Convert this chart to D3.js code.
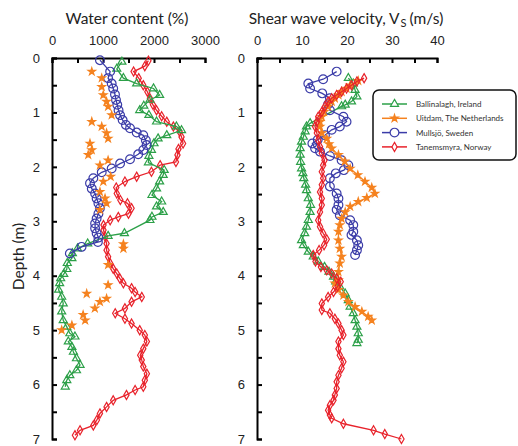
<!DOCTYPE html>
<html>
<head>
<meta charset="utf-8">
<script src="https://cdn.jsdelivr.net/npm/d3@7/dist/d3.min.js"></script>
<style>
  html, body { margin: 0; padding: 0; background: #fff; }
  svg { display: block; font-family: Lato, "Open Sans", sans-serif; }
  .axis path, .axis line { stroke: #000; stroke-width: 2; }
  .axis text { font-size: 13px; fill: #222; }
</style>
</head>
<body>
<svg id="chart" width="518" height="446"></svg>
<script>
// ---- data: [depth (m), value] ----
const siteNames = ["Ballinalagh, Ireland", "Uitdam, The Netherlands", "Mullsjö, Sweden", "Tanemsmyra, Norway"];
const siteColors = ["#2ca048", "#f5821f", "#3b3ca8", "#e8222b"];

const wcTicks = [0, 500, 1000, 1500, 2000, 2500, 3000];
const vsTicks = [0, 5, 10, 15, 20, 25, 30, 35, 40];
const depthTicks = [0, 0.5, 1, 1.5, 2, 2.5, 3, 3.5, 4, 4.5, 5, 5.5, 6, 6.5, 7];

// Water content (%)
const ballinalaghWC = [
  [0.07,1370],[0.20,1270],[0.37,1400],[0.47,1660],[0.56,1990],[0.68,2110],[0.77,1920],[0.88,1800],
  [0.96,1720],[1.05,1900],[1.17,2050],[1.26,2440],[1.33,2540],[1.42,2250],[1.48,2080],[1.57,2000],
  [1.69,1950],[1.80,1900],[1.92,1890],[2.06,2200],[2.15,2180],[2.27,2110],[2.40,2050],[2.52,1960],
  [2.64,2150],[2.73,2050],[2.83,2180],[2.92,1960],[2.98,1920],[3.22,1420],[3.27,1100],[3.41,700],
  [3.50,500],[3.59,400],[3.68,390],[3.77,300],[3.88,290],[3.97,230],[4.05,170],[4.14,150],
  [4.26,130],[4.39,190],[4.51,220],[4.66,190],[4.82,220],[4.94,290],[5.06,350],[5.12,450],
  [5.21,320],[5.31,390],[5.40,420],[5.52,480],[5.64,550],[5.74,480],[5.83,350],[5.92,290],[6.04,260]
];
const uitdamWC = [
  [0.25,780],[0.37,975],[0.53,975],[0.68,1005],[0.80,1070],[0.89,1100],[1.05,1170],[1.17,780],
  [1.26,975],[1.38,1070],[1.48,1100],[1.57,745],[1.69,780],[1.78,710],[1.88,1100],[1.97,940],
  [2.18,1150],[2.27,1006],[2.46,940],[2.58,1040],[2.67,1070],[2.79,940],[3.42,1400],[3.50,1400],
  [3.80,1100],[4.17,1100],[4.33,680],[4.42,1070],[4.48,940],[4.60,840],[4.72,610],[4.82,650],
  [4.91,390],[5.00,190]
];
const mullsjoWC = [
  [0.04,940],[0.25,1140],[0.37,1100],[0.47,1170],[0.56,1200],[0.67,1235],[0.77,1255],[0.86,1280],
  [0.96,1305],[1.05,1335],[1.14,1385],[1.23,1450],[1.29,1530],[1.37,1660],[1.42,1790],[1.51,1840],
  [1.60,1855],[1.69,1790],[1.77,1690],[1.86,1530],[1.94,1335],[2.03,1170],[2.10,975],[2.21,810],
  [2.30,745],[2.40,780],[2.49,845],[2.58,875],[2.67,910],[2.76,940],[2.86,910],[2.95,875],
  [3.04,845],[3.13,845],[3.22,875],[3.30,910],[3.38,900],[3.47,580],[3.59,350]
];
const tanemsmyraWC = [
  [0.05,1890],[0.15,1820],[0.25,1600],[0.37,1700],[0.50,1790],[0.62,1870],[0.74,1920],[0.86,1980],
  [0.96,2050],[1.07,2150],[1.17,2250],[1.26,2380],[1.35,2500],[1.45,2540],[1.57,2570],[1.67,2480],
  [1.78,2460],[1.91,2430],[1.97,2120],[2.09,1950],[2.18,1660],[2.27,1430],[2.38,1260],[2.49,1270],
  [2.61,1340],[2.67,1480],[2.76,1560],[2.86,1500],[2.92,1300],[2.98,1140],[3.07,1010],[3.16,1010],
  [3.28,1040],[3.41,1070],[3.53,1070],[3.65,1100],[3.77,1140],[3.87,1200],[3.96,1270],[4.05,1330],
  [4.14,1400],[4.23,1560],[4.30,1630],[4.39,1760],[4.48,1560],[4.60,1430],[4.69,1240],[4.79,1430],
  [4.88,1560],[5.00,1720],[5.09,1820],[5.21,1860],[5.34,1790],[5.46,1730],[5.55,1760],[5.67,1790],
  [5.80,1860],[5.92,1820],[6.04,1790],[6.10,1630],[6.19,1460],[6.29,1200],[6.41,1070],[6.53,940],
  [6.65,880],[6.75,810],[6.84,550],[6.93,450]
];

// Shear wave velocity (m/s)
const ballinalaghVS = [
  [0.37,20.3],[0.47,21.4],[0.59,21.8],[0.71,22.2],[0.80,21.0],[0.86,19.6],[0.89,18.8],[1.20,11.8],
  [1.26,11.0],[1.35,10.7],[1.45,10.3],[1.54,9.9],[1.66,9.6],[1.78,9.6],[1.91,9.7],[2.03,9.9],
  [2.12,10.2],[2.21,10.4],[2.33,10.8],[2.43,11.0],[2.58,11.4],[2.70,11.9],[2.83,11.8],[2.98,11.4],
  [3.10,11.0],[3.22,10.6],[3.35,9.9],[3.44,10.3],[3.56,11.4],[3.65,12.5],[3.74,13.6],[3.84,15.0],
  [3.93,16.0],[4.02,17.0],[4.11,17.5],[4.20,18.4],[4.33,19.6],[4.45,20.3],[4.57,20.7],[4.69,21.4],
  [4.82,21.8],[4.94,22.2],[5.06,22.5],[5.18,22.5],[5.24,22.2]
];
const uitdamVS = [
  [0.42,22.5],[0.50,20.7],[0.56,19.9],[0.62,18.8],[0.68,18.1],[0.74,17.3],[0.80,16.6],[0.89,15.8],
  [0.99,14.9],[1.08,14.4],[1.17,14.0],[1.26,14.0],[1.38,14.4],[1.48,15.5],[1.58,16.0],[1.66,16.6],
  [1.78,18.1],[1.90,19.5],[2.03,20.7],[2.15,22.4],[2.27,24.0],[2.38,25.5],[2.49,26.2],[2.57,24.4],
  [2.64,22.5],[2.73,20.7],[2.83,19.6],[2.95,18.8],[3.07,18.4],[3.19,18.1],[3.35,18.1],[3.50,18.4],
  [3.65,18.8],[3.77,18.4],[3.93,18.1],[4.08,18.1],[4.14,17.3],[4.26,18.1],[4.36,19.2],[4.48,20.3],
  [4.57,21.8],[4.66,23.3],[4.75,24.7],[4.82,25.5]
];
const mullsjoVS = [
  [0.25,17.7],[0.39,14.7],[0.47,11.4],[0.56,11.8],[0.65,14.5],[0.74,16.2],[0.85,15.8],[0.96,16.2],
  [1.08,19.2],[1.17,19.9],[1.26,18.4],[1.32,16.6],[1.42,15.1],[1.50,13.5],[1.57,12.3],[1.66,12.9],
  [1.72,14.0],[1.80,16.2],[1.88,18.8],[1.97,20.3],[2.06,19.3],[2.12,17.5],[2.21,16.2],[2.36,16.2],
  [2.49,17.7],[2.58,18.1],[2.70,18.1],[2.79,17.7],[2.89,18.4],[2.98,20.7],[3.07,21.4],[3.19,21.4],
  [3.25,21.0],[3.35,22.2],[3.44,22.5],[3.53,22.2],[3.62,21.8]
];
const tanemsmyraVS = [
  [0.37,23.8],[0.43,22.2],[0.50,21.0],[0.56,19.9],[0.62,18.8],[0.68,17.7],[0.74,16.6],[0.80,15.8],
  [0.89,15.1],[0.99,14.4],[1.08,13.6],[1.17,13.3],[1.26,12.9],[1.38,13.3],[1.51,13.6],[1.63,14.0],
  [1.75,14.4],[1.88,15.0],[1.97,14.7],[2.09,14.4],[2.21,14.7],[2.33,14.4],[2.46,14.0],[2.58,14.4],
  [2.70,14.4],[2.83,14.0],[2.98,13.6],[3.10,14.0],[3.22,14.7],[3.33,15.5],[3.44,14.9],[3.53,13.8],
  [3.62,12.5],[3.74,13.0],[3.84,14.2],[3.90,15.5],[3.96,16.6],[4.05,17.7],[4.11,18.6],[4.20,17.9],
  [4.30,17.0],[4.39,15.8],[4.51,14.4],[4.63,14.4],[4.69,16.2],[4.79,17.3],[4.88,18.1],[5.00,18.8],
  [5.09,19.2],[5.21,18.1],[5.34,18.1],[5.46,18.4],[5.58,19.2],[5.70,18.8],[5.83,18.1],[5.95,17.7],
  [6.07,17.7],[6.19,17.3],[6.29,17.0],[6.38,16.2],[6.47,15.8],[6.56,16.2],[6.62,16.6],[6.72,19.2],
  [6.84,25.9],[6.91,28.4],[7.00,32.1]
];

// ---- layout ----
const svg = d3.select("#chart");
const plotTop = 58, plotBottom = 439;
const y = d3.scaleLinear().domain([0, 7]).range([plotTop, plotBottom]);
const xWC = d3.scaleLinear().domain([0, 3000]).range([52, 205]);
const xVS = d3.scaleLinear().domain([0, 40]).range([257, 437]);

// symbol per site: triangle, star, circle, diamond
const markers = [
  { type: d3.symbolTriangle, size: 28, fill: "none" },
  { type: d3.symbolStar, size: 17, fill: null },
  { type: d3.symbolCircle, size: 60, fill: "none" },
  { type: d3.symbolDiamond, size: 24, fill: "none" }
];

function drawSeries(g, data, x, i, withLine) {
  const color = siteColors[i];
  if (withLine) {
    g.append("path")
      .datum(data)
      .attr("fill", "none")
      .attr("stroke", color)
      .attr("stroke-width", 1.3)
      .attr("d", d3.line().x(d => x(d[1])).y(d => y(d[0])));
  }
  const m = markers[i];
  g.selectAll(null)
    .data(data)
    .join("path")
    .attr("transform", d => `translate(${x(d[1])},${y(d[0])})`)
    .attr("d", d3.symbol().type(m.type).size(m.size))
    .attr("fill", m.fill === null ? color : m.fill)
    .attr("stroke", color)
    .attr("stroke-width", 1.2);
}

function drawAxes(x, ticks, labelEvery) {
  svg.append("g")
    .attr("class", "axis")
    .attr("transform", `translate(0,${plotTop})`)
    .call(d3.axisTop(x).tickValues(ticks).tickSize(-5).tickSizeOuter(-5).tickPadding(13)
      .tickFormat(v => v % labelEvery === 0 ? v : ""));
  svg.append("g")
    .attr("class", "axis")
    .attr("transform", `translate(${x.range()[0]},0)`)
    .call(d3.axisLeft(y).tickValues(depthTicks).tickSize(-5).tickSizeOuter(-5).tickPadding(12)
      .tickFormat(v => Number.isInteger(v) ? v : ""));
}

drawAxes(xWC, wcTicks, 1000);
drawAxes(xVS, vsTicks, 10);

// water content panel
const gWC = svg.append("g");
drawSeries(gWC, tanemsmyraWC, xWC, 3, true);
drawSeries(gWC, ballinalaghWC, xWC, 0, true);
drawSeries(gWC, mullsjoWC, xWC, 2, true);
drawSeries(gWC, uitdamWC, xWC, 1, false);

// shear wave velocity panel
const gVS = svg.append("g");
drawSeries(gVS, ballinalaghVS, xVS, 0, true);
drawSeries(gVS, mullsjoVS, xVS, 2, true);
drawSeries(gVS, uitdamVS, xVS, 1, true);
drawSeries(gVS, tanemsmyraVS, xVS, 3, true);

// titles
svg.append("text")
  .attr("x", 127).attr("y", 24)
  .attr("text-anchor", "middle")
  .attr("font-size", 15.5).attr("fill", "#222")
  .text("Water content (%)");

const vsTitle = svg.append("text")
  .attr("x", 346).attr("y", 24)
  .attr("text-anchor", "middle")
  .attr("font-size", 15.5).attr("fill", "#222");
vsTitle.append("tspan").text("Shear wave velocity, V");
vsTitle.append("tspan").attr("font-size", 11).attr("dy", 3).attr("dx", 1).text("S");
vsTitle.append("tspan").attr("dy", -3).attr("dx", 3).text("(m/s)");

svg.append("text")
  .attr("transform", `translate(24,${(plotTop + plotBottom) / 2 + 8}) rotate(-90)`)
  .attr("text-anchor", "middle")
  .attr("font-size", 15.5).attr("fill", "#222")
  .text("Depth (m)");

// legend
const lg = svg.append("g").attr("transform", "translate(373,90)");
lg.append("rect")
  .attr("width", 143).attr("height", 70)
  .attr("rx", 6).attr("ry", 6)
  .attr("fill", "#fff")
  .attr("stroke", "#111").attr("stroke-width", 1.5);
siteNames.forEach((name, i) => {
  const row = lg.append("g").attr("transform", `translate(0,${14 + i * 14.3})`);
  row.append("line")
    .attr("x1", 9).attr("x2", 34)
    .attr("stroke", siteColors[i]).attr("stroke-width", 1.5);
  const m = markers[i];
  row.append("path")
    .attr("transform", "translate(21.5,0)")
    .attr("d", d3.symbol().type(m.type).size(m.size))
    .attr("fill", m.fill === null ? siteColors[i] : "#fff")
    .attr("stroke", siteColors[i]).attr("stroke-width", 1.2);
  row.append("text")
    .attr("x", 43).attr("y", 3)
    .attr("font-size", 8).attr("fill", "#333")
    .text(name);
});
</script>
</body>
</html>
